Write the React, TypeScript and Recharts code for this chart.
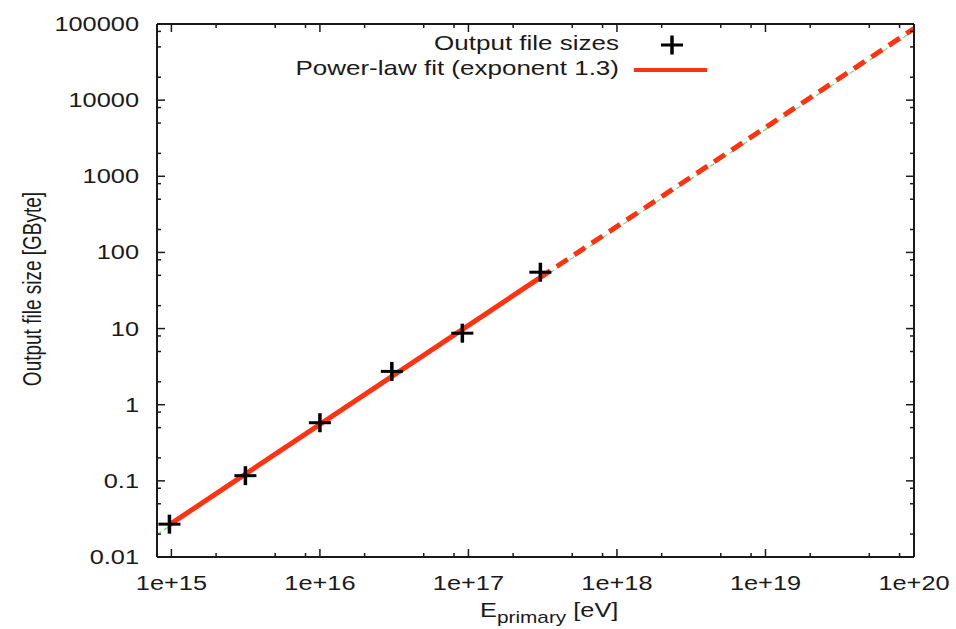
import React from 'react';
import { ComposedChart, XAxis, YAxis, Line, Scatter, Customized } from 'recharts';

// Measured output file sizes
const energies = [9.7e14, 3.15e15, 1e16, 3.05e16, 9.1e16, 3.05e17];
const sizes = [0.027, 0.117, 0.58, 2.74, 8.7, 55];

// Power-law fit (exponent 1.3): solid over measured range, dashed extrapolation
const fitSolidX = [9.5e14, 3e17];
const fitSolidY = [0.0258, 46];
const fitDashX = [3e17, 1e20];
const fitDashY = [46, 87000];

// Thin green reference line under the fit
const refX = [8e14, 1e20];
const refY = [0.0197, 82000];

const xMajor = [1e15, 1e16, 1e17, 1e18, 1e19, 1e20];
const xLabels = ['1e+15', '1e+16', '1e+17', '1e+18', '1e+19', '1e+20'];
const yMajor = [0.01, 0.1, 1, 10, 100, 1000, 10000, 100000];
const yLabels = ['0.01', '0.1', '1', '10', '100', '1000', '10000', '100000'];
const minorMultipliers = [2, 5, 8];

const xDomain = [8e14, 1e20];
const yDomain = [0.01, 100000];

const xTicks = [
  ...xMajor,
  ...xMajor.slice(0, -1).flatMap((m) => minorMultipliers.map((k) => m * k)),
];
const yTicks = [
  ...yMajor,
  ...yMajor.slice(0, -1).flatMap((m) => minorMultipliers.map((k) => m * k)),
];

const points = energies.map((x, i) => ({ x, y: sizes[i] }));
const fitSolid = fitSolidX.map((x, i) => ({ x, y: fitSolidY[i] }));
const fitDash = fitDashX.map((x, i) => ({ x, y: fitDashY[i] }));
const refLine = refX.map((x, i) => ({ x, y: refY[i] }));

const FONT = '"Liberation Sans", Arial, Helvetica, sans-serif';
const INK = '#1a1a1a';
const RED = '#ff3311';
const GREEN = '#7ddc7d';
const SX = 1.3;
const MAJOR = 8;
const MINOR = 4;

const TickText = ({ x, y, anchor, children, size = 19.5 }: any) => (
  <g transform={`translate(${x},${y}) scale(${SX},1)`}>
    <text x={0} y={0} textAnchor={anchor} fontFamily={FONT} fontSize={size} fill={INK}>
      {children}
    </text>
  </g>
);

const BottomTick = (p: any) => {
  const { x, y, payload } = p;
  const idx = xMajor.indexOf(payload.value);
  const major = idx >= 0;
  return (
    <g>
      <line x1={x} y1={y} x2={x} y2={y - (major ? MAJOR : MINOR)} stroke={INK} strokeWidth={1.5} />
      {major && (
        <TickText x={x} y={y + 33} anchor="middle">
          {xLabels[idx]}
        </TickText>
      )}
    </g>
  );
};

const TopTick = (p: any) => {
  const { x, y, payload } = p;
  const major = xMajor.indexOf(payload.value) >= 0;
  return <line x1={x} y1={y} x2={x} y2={y + (major ? MAJOR : MINOR)} stroke={INK} strokeWidth={1.5} />;
};

const LeftTick = (p: any) => {
  const { x, y, payload } = p;
  const idx = yMajor.indexOf(payload.value);
  const major = idx >= 0;
  return (
    <g>
      <line x1={x} y1={y} x2={x + (major ? MAJOR : MINOR)} y2={y} stroke={INK} strokeWidth={1.5} />
      {major && (
        <TickText x={x - 18} y={y + 7} anchor="end">
          {yLabels[idx]}
        </TickText>
      )}
    </g>
  );
};

const RightTick = (p: any) => {
  const { x, y, payload } = p;
  const major = yMajor.indexOf(payload.value) >= 0;
  return <line x1={x} y1={y} x2={x - (major ? MAJOR : MINOR)} y2={y} stroke={INK} strokeWidth={1.5} />;
};

const Cross = (p: any) => {
  const { cx, cy } = p;
  if (cx == null || cy == null) return <g />;
  return (
    <g>
      <line x1={cx - 11} y1={cy} x2={cx + 11} y2={cy} stroke="#000" strokeWidth={3} />
      <line x1={cx} y1={cy - 9.5} x2={cx} y2={cy + 9.5} stroke="#000" strokeWidth={3.5} />
    </g>
  );
};

const Annotations = () => (
  <g>
    {/* Legend */}
    <TickText x={619} y={50} anchor="end" size={20}>
      Output file sizes
    </TickText>
    <Cross cx={672} cy={45} />
    <TickText x={619} y={75} anchor="end" size={20}>
      Power-law fit (exponent 1.3)
    </TickText>
    <line x1={634} y1={70} x2={707} y2={70} stroke={RED} strokeWidth={4} />
    {/* Y axis title */}
    <g transform={`translate(41,289) scale(1.4,1) rotate(-90)`}>
      <text x={0} y={0} textAnchor="middle" fontFamily={FONT} fontSize={19} fill={INK}>
        Output file size [GByte]
      </text>
    </g>
    {/* X axis title */}
    <g transform={`translate(480,617) scale(${SX},1)`}>
      <text x={0} y={0} textAnchor="start" fontFamily={FONT} fontSize={19.5} fill={INK}>
        <tspan>E</tspan>
        <tspan fontSize={16} dy={6}>primary</tspan>
        <tspan dy={-6}> [eV]</tspan>
      </text>
    </g>
  </g>
);

export default function App() {
  return (
    <div style={{ position: 'absolute', left: 0, top: 0, width: 956, height: 629, background: '#fff' }}>
      <ComposedChart width={956} height={629} margin={{ top: 0, right: 0, bottom: 0, left: 0 }}>
        <XAxis
          dataKey="x"
          type="number"
          scale="log"
          domain={xDomain}
          allowDataOverflow
          ticks={xTicks}
          interval={0}
          tick={<BottomTick />}
          tickLine={false}
          tickSize={0}
          tickMargin={0}
          height={72}
          axisLine={{ stroke: INK, strokeWidth: 2 }}
        />
        <XAxis
          xAxisId="top"
          orientation="top"
          dataKey="x"
          type="number"
          scale="log"
          domain={xDomain}
          allowDataOverflow
          ticks={xTicks}
          interval={0}
          tick={<TopTick />}
          tickLine={false}
          tickSize={0}
          tickMargin={0}
          height={24}
          axisLine={{ stroke: INK, strokeWidth: 2 }}
        />
        <YAxis
          dataKey="y"
          type="number"
          scale="log"
          domain={yDomain}
          allowDataOverflow
          ticks={yTicks}
          interval={0}
          tick={<LeftTick />}
          tickLine={false}
          tickSize={0}
          tickMargin={0}
          width={157}
          axisLine={{ stroke: INK, strokeWidth: 2 }}
        />
        <YAxis
          yAxisId="right"
          orientation="right"
          dataKey="y"
          type="number"
          scale="log"
          domain={yDomain}
          allowDataOverflow
          ticks={yTicks}
          interval={0}
          tick={<RightTick />}
          tickLine={false}
          tickSize={0}
          tickMargin={0}
          width={42}
          axisLine={{ stroke: INK, strokeWidth: 2 }}
        />
        <Line
          data={refLine}
          dataKey="y"
          type="linear"
          stroke={GREEN}
          strokeWidth={1.3}
          strokeDasharray="5 3"
          dot={false}
          activeDot={false}
          isAnimationActive={false}
        />
        <Line
          data={fitSolid}
          dataKey="y"
          type="linear"
          stroke={RED}
          strokeWidth={5}
          dot={false}
          activeDot={false}
          isAnimationActive={false}
        />
        <Line
          data={fitDash}
          dataKey="y"
          type="linear"
          stroke={RED}
          strokeWidth={5}
          strokeDasharray="13 8"
          dot={false}
          activeDot={false}
          isAnimationActive={false}
        />
        <Scatter data={points} dataKey="y" shape={<Cross />} isAnimationActive={false} />
        <Customized component={Annotations} />
      </ComposedChart>
    </div>
  );
}
